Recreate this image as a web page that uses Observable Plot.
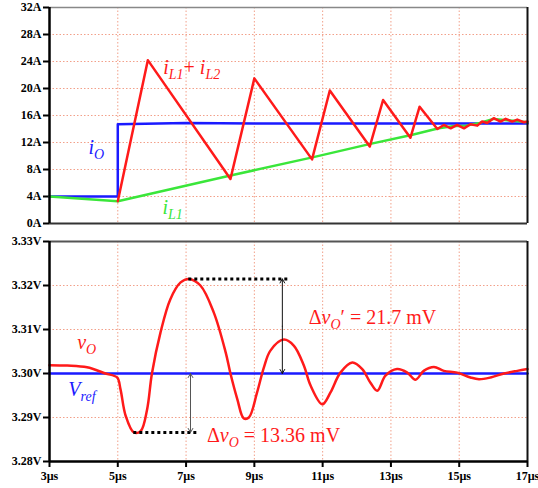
<!DOCTYPE html>
<html><head><meta charset="utf-8">
<script src="https://cdn.jsdelivr.net/npm/d3@7"></script>
<script src="https://cdn.jsdelivr.net/npm/@observablehq/plot@0.6"></script>
<style>
html,body{margin:0;padding:0;background:#fff;}
#chart{width:538px;height:488px;overflow:hidden;background:#fff;}
#chart svg{display:block;overflow:visible;}
#chart svg, #chart svg text{font-family:"Liberation Serif","Times New Roman",serif !important;}
</style></head><body><div id="chart"></div>
<script>
// ---------- data ----------
const timeTicks = [3, 5, 7, 9, 11, 13, 15, 17];          // µs
const timeGrid = [5, 7, 9, 11, 13, 15];
const currentTicks = [0, 4, 8, 12, 16, 20, 24, 28, 32];  // A
const currentGrid = [4, 8, 12, 16, 20, 24, 28];
const voltageTicks = [3.28, 3.29, 3.30, 3.31, 3.32, 3.33]; // V
const voltageGrid = [3.29, 3.30, 3.31, 3.32];

// i_O (load current)
const ioTime = [3, 5, 5, 7, 9, 11, 13, 15, 17];
const ioAmps = [4.0, 4.0, 14.7, 14.9, 14.8, 14.8, 14.8, 14.8, 14.8];

// i_L1
const il1Time = [3, 5, 8.3, 10.7, 12.4, 13.6, 14.4, 14.8, 15.2, 15.6, 16.0, 16.4, 17];
const il1Amps = [4.0, 3.3, 7.1, 9.8, 11.8, 13.1, 14.1, 14.4, 14.5, 14.9, 15.5, 15.3, 15.0];

// i_L1 + i_L2
const isumTime = [5, 5.88, 8.30, 9.0, 10.69, 11.21, 12.38, 12.77, 13.57, 13.84, 14.36, 14.55, 14.75, 14.94, 15.14, 15.33, 15.53, 15.67, 15.82, 16.01, 16.21, 16.36, 16.55, 16.70, 16.89, 17];
const isumAmps = [3.3, 24.2, 6.6, 21.5, 9.5, 19.7, 11.4, 18.3, 12.7, 17.3, 14.0, 14.6, 14.1, 14.6, 14.1, 14.7, 14.5, 15.1, 14.9, 15.6, 15.1, 15.5, 15.1, 15.4, 15.0, 15.1];

// v_O
const voTime = [3.0, 3.52, 4.10, 4.64, 4.98, 5.08, 5.23, 5.47, 5.67, 5.86, 6.0, 6.25, 6.54, 6.84, 7.08, 7.42, 7.81, 8.16, 8.30, 8.50, 8.69, 8.84, 9.08, 9.28, 9.47, 9.86, 10.16, 10.45, 10.65, 10.99, 11.23, 11.52, 11.87, 12.16, 12.40, 12.60, 12.84, 13.18, 13.48, 13.72, 13.96, 14.26, 14.55, 14.94, 15.33, 15.58, 15.92, 16.31, 16.70, 17.0];
const voVolts = [3.3019, 3.3018, 3.3014, 3.3000, 3.2991, 3.2964, 3.2904, 3.2866, 3.2869, 3.2919, 3.3000, 3.3093, 3.3169, 3.3207, 3.3215, 3.3200, 3.3139, 3.3048, 3.3000, 3.2942, 3.2898, 3.2900, 3.2957, 3.3014, 3.3052, 3.3077, 3.3063, 3.3018, 3.2972, 3.2930, 3.2957, 3.3002, 3.3025, 3.3010, 3.2979, 3.2961, 3.2995, 3.3010, 3.3002, 3.2986, 3.3006, 3.3015, 3.3006, 3.3002, 3.2991, 3.2987, 3.2991, 3.3000, 3.3006, 3.3010];

// V_ref
const vrefTime = [3, 17];
const vrefVolts = [3.30, 3.30];

// deviation annotations
const dipTime = [5.47, 7.33], dipLevel = 3.2866;
const peakTime = [7.08, 10.06], peakLevel = 3.3215;
const dipArrowTime = 7.13, peakArrowTime = 9.82;

// ---------- helpers ----------
const zip = (xs, ys) => xs.map((x, i) => ({x, y: ys[i]}));
const serif = "Liberation Serif";
const RED = "#ff1a1a", BLUE = "#1a1aff", GREEN = "#3ae63a", GRID = "#f2a08a";

const gridStyle = {stroke: GRID, strokeWidth: 1, strokeDasharray: "1.5,2"};
const common = {
  width: 538, marginLeft: 49, marginRight: 11,
  style: {fontFamily: serif, fontSize: "12px", fontWeight: "bold", color: "#000", background: "transparent", overflow: "visible"}
};
const label = (text, x, y, fill) => Plot.text([text], {
  x: () => x, y: () => y, text: d => d, fill, textAnchor: "start", lineAnchor: "bottom",
  fontSize: 20, fontWeight: "normal", fontFamily: serif
});

// ---------- top panel: currents ----------
const topPlot = Plot.plot({
  ...common, height: 230, marginTop: 7, marginBottom: 7,
  x: {domain: [3, 17], axis: null},
  y: {domain: [0, 32], ticks: currentTicks, tickFormat: d => d + "A", tickSize: 6, tickPadding: 2, label: null},
  marks: [
    Plot.ruleX(timeGrid, gridStyle),
    Plot.ruleY(currentGrid, gridStyle),
    Plot.line(zip(ioTime, ioAmps), {x: "x", y: "y", stroke: BLUE, strokeWidth: 2.5}),
    Plot.line(zip(il1Time, il1Amps), {x: "x", y: "y", stroke: GREEN, strokeWidth: 2.5}),
    Plot.line(zip(isumTime, isumAmps), {x: "x", y: "y", stroke: RED, strokeWidth: 2.5}),
    label("*i*_{L1}+ *i*_{L2}", 6.33, 22.2, RED),
    label("*i*_{O}", 4.14, 10.3, BLUE),
    label("*i*_{L1}", 6.31, 1.4, GREEN),
    Plot.ruleY([32], {stroke: "#888", strokeWidth: 1.5}),
    Plot.ruleX([17], {stroke: "#111", strokeWidth: 2}),
    Plot.ruleY([0], {stroke: "#333", strokeWidth: 2.2}),
    Plot.ruleX([3], {stroke: "#000", strokeWidth: 2.5})
  ]
});

// ---------- bottom panel: voltages ----------
const bottomPlot = Plot.plot({
  ...common, height: 258, marginTop: 11, marginBottom: 27,
  x: {domain: [3, 17], ticks: timeTicks, tickFormat: d => d + "µs", tickSize: 6, tickPadding: 4, label: null},
  y: {domain: [3.28, 3.33], ticks: voltageTicks, tickFormat: d => d.toFixed(2) + "V", tickSize: 6, tickPadding: 2, label: null},
  marks: [
    Plot.ruleX(timeGrid, gridStyle),
    Plot.ruleY(voltageGrid, gridStyle),
    Plot.line(zip(vrefTime, vrefVolts), {x: "x", y: "y", stroke: BLUE, strokeWidth: 2.5}),
    Plot.line(zip(voTime, voVolts), {x: "x", y: "y", stroke: RED, strokeWidth: 2.5, curve: "catmull-rom"}),
    Plot.ruleY([dipLevel], {x1: dipTime[0], x2: dipTime[1], stroke: "#000", strokeWidth: 3, strokeDasharray: "3,3"}),
    Plot.ruleY([peakLevel], {x1: peakTime[0], x2: peakTime[1], stroke: "#000", strokeWidth: 3, strokeDasharray: "3,3"}),
    Plot.arrow([0], {x1: dipArrowTime, x2: dipArrowTime, y1: (3.30 + dipLevel) / 2, y2: 3.30, stroke: "#555", strokeWidth: 1, headLength: 7}),
    Plot.arrow([0], {x1: dipArrowTime, x2: dipArrowTime, y1: (3.30 + dipLevel) / 2, y2: dipLevel, stroke: "#555", strokeWidth: 1, headLength: 7}),
    Plot.arrow([0], {x1: peakArrowTime, x2: peakArrowTime, y1: (3.30 + peakLevel) / 2, y2: peakLevel, stroke: "#111", strokeWidth: 1, headLength: 7}),
    Plot.arrow([0], {x1: peakArrowTime, x2: peakArrowTime, y1: (3.30 + peakLevel) / 2, y2: 3.30, stroke: "#111", strokeWidth: 1, headLength: 7}),
    label("*v*_{O}", 3.81, 3.3056, RED),
    label("*V*_{ref}", 3.55, 3.2949, BLUE),
    label("Δ*v*_{O}′ = 21.7 mV", 10.59, 3.3112, RED),
    label("Δ*v*_{O} = 13.36 mV", 7.61, 3.2844, RED),
    Plot.ruleY([3.33], {stroke: "#555", strokeWidth: 2}),
    Plot.ruleX([17], {stroke: "#111", strokeWidth: 2}),
    Plot.ruleY([3.28], {stroke: "#000", strokeWidth: 2.5}),
    Plot.ruleX([3], {stroke: "#000", strokeWidth: 2.5})
  ]
});

// rich text: *italic*, _{subscript}
function richText(svg) {
  d3.select(svg).selectAll("text").each(function () {
    const raw = this.textContent;
    if (!/[*]|_\{/.test(raw)) return;
    const sel = d3.select(this);
    sel.text(null);
    const tokens = raw.split(/(_\{[^}]*\}|\*)/).filter(s => s !== "");
    let italic = false, shifted = false;
    for (const tk of tokens) {
      if (tk === "*") { italic = !italic; continue; }
      if (tk.startsWith("_{")) {
        sel.append("tspan").attr("dy", shifted ? 0 : 5).attr("font-size", 14)
          .attr("font-style", "italic").text(tk.slice(2, -1));
        shifted = true;
      } else {
        const ts = sel.append("tspan").text(tk).attr("font-style", italic ? "italic" : "normal");
        if (shifted) { ts.attr("dy", -5); shifted = false; }
      }
    }
  });
}

function boldAxes(svg) {
  d3.select(svg).selectAll('g[aria-label*="axis"]').attr("stroke-width", 2);
}

const root = document.getElementById("chart");
root.append(topPlot, bottomPlot);
for (const p of [topPlot, bottomPlot]) {
  const svg = p.tagName.toLowerCase() === "svg" ? p : p.querySelector("svg");
  richText(svg);
  boldAxes(svg);
}
</script></body></html>
